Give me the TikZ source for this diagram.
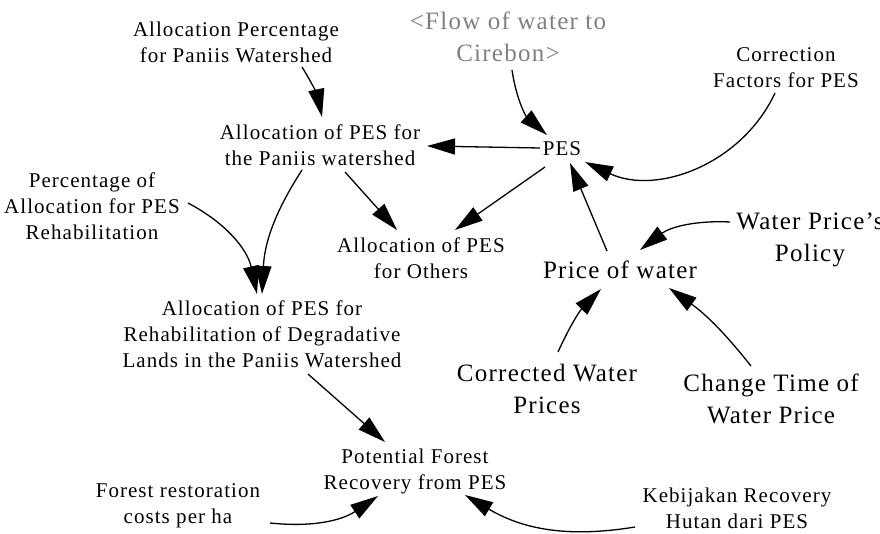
\documentclass[tikz,border=0pt]{standalone}
\usepackage{fontspec}
\setmainfont{Liberation Serif}[LetterSpace=5]
\usetikzlibrary{arrows.meta}
\definecolor{shadowgray}{RGB}{128,128,128}
\begin{document}
\begin{tikzpicture}[x=1pt,y=1pt,
  small/.style={align=center,inner sep=0pt,font=\fontsize{21}{26}\selectfont},
  big/.style={align=center,inner sep=0pt,font=\fontsize{25}{32}\selectfont},
  shadowvar/.style={big,text=shadowgray},
  arr/.style={-{Triangle[length=28pt,width=16pt]},line width=1.3pt}]
\useasboundingbox (0,0) rectangle (880,533);
\node[small] (alpct) at (236,491) {Allocation Percentage\\for Paniis Watershed};
\node[small] (alpan) at (320,388) {Allocation of PES for\\the Paniis watershed};
\node[small] (pes) at (562,384) {PES};
\node[shadowvar] (flow) at (508,496) {<Flow of water to\\Cirebon>};
\node[small] (corr) at (786,465) {Correction\\Factors for PES};
\node[small] (pctreh) at (92,327) {Percentage of\\Allocation for PES\\Rehabilitation};
\node[small] (others) at (421,275) {Allocation of PES\\for Others};
\node[small] (reh) at (262,199) {Allocation of PES for\\Rehabilitation of Degradative\\Lands in the Paniis Watershed};
\node[big] (price) at (620,263) {Price of water};
\node[big] (policy) at (810,293) {Water Price's\\Policy};
\node[big] (corrected) at (547,144) {Corrected Water\\Prices};
\node[big] (change) at (771,134) {Change Time of\\Water Price};
\node[small] (potential) at (415,62) {Potential Forest\\Recovery from PES};
\node[small] (restor) at (178,27) {Forest restoration\\costs per ha};
\node[small] (kebij) at (737,25) {Kebijakan Recovery\\Hutan dari PES};

\draw[arr] ([shift={(66,-25)}]alpct.center) to[bend left=10] ([shift={(2,28)}]alpan.center);
\draw[arr] ([shift={(4,-33)}]flow.center) to[bend right=20] ([shift={(-15,14)}]pes.center);
\draw[arr] ([shift={(-22,1)}]pes.center) -- ([shift={(107,-1)}]alpan.center);
\draw[arr] ([shift={(-17,-18)}]pes.center) -- ([shift={(34,28)}]others.center);
\draw[arr] ([shift={(25,-27)}]alpan.center) -- ([shift={(-24,28)}]others.center);
\draw[arr] ([shift={(-18,-25)}]alpan.center) to[bend right=15] ([shift={(0,40)}]reh.center);
\draw[arr] ([shift={(96,3)}]pctreh.center) to[bend left=25] ([shift={(-5,40)}]reh.center);
\draw[arr] ([shift={(-11,-25)}]corr.center) to[bend left=45] ([shift={(23,-13)}]pes.center);
\draw[arr] ([shift={(-13,19)}]price.center) -- ([shift={(8,-14)}]pes.center);
\draw[arr] ([shift={(-80,18)}]policy.center) to[bend right=20] ([shift={(20,20)}]price.center);
\draw[arr] ([shift={(11,37)}]corrected.center) to[bend left=10] ([shift={(-19,-19)}]price.center);
\draw[arr] ([shift={(-20,33)}]change.center) to[bend right=8] ([shift={(49,-18)}]price.center);
\draw[arr] ([shift={(46,-40)}]reh.center) -- ([shift={(-30,29)}]potential.center);
\draw[arr] ([shift={(92,-17)}]restor.center) to[bend right=20] ([shift={(-37,-25)}]potential.center);
\draw[arr] ([shift={(-102,-19)}]kebij.center) to[bend left=20] ([shift={(50,-24)}]potential.center);
\end{tikzpicture}
\end{document}
